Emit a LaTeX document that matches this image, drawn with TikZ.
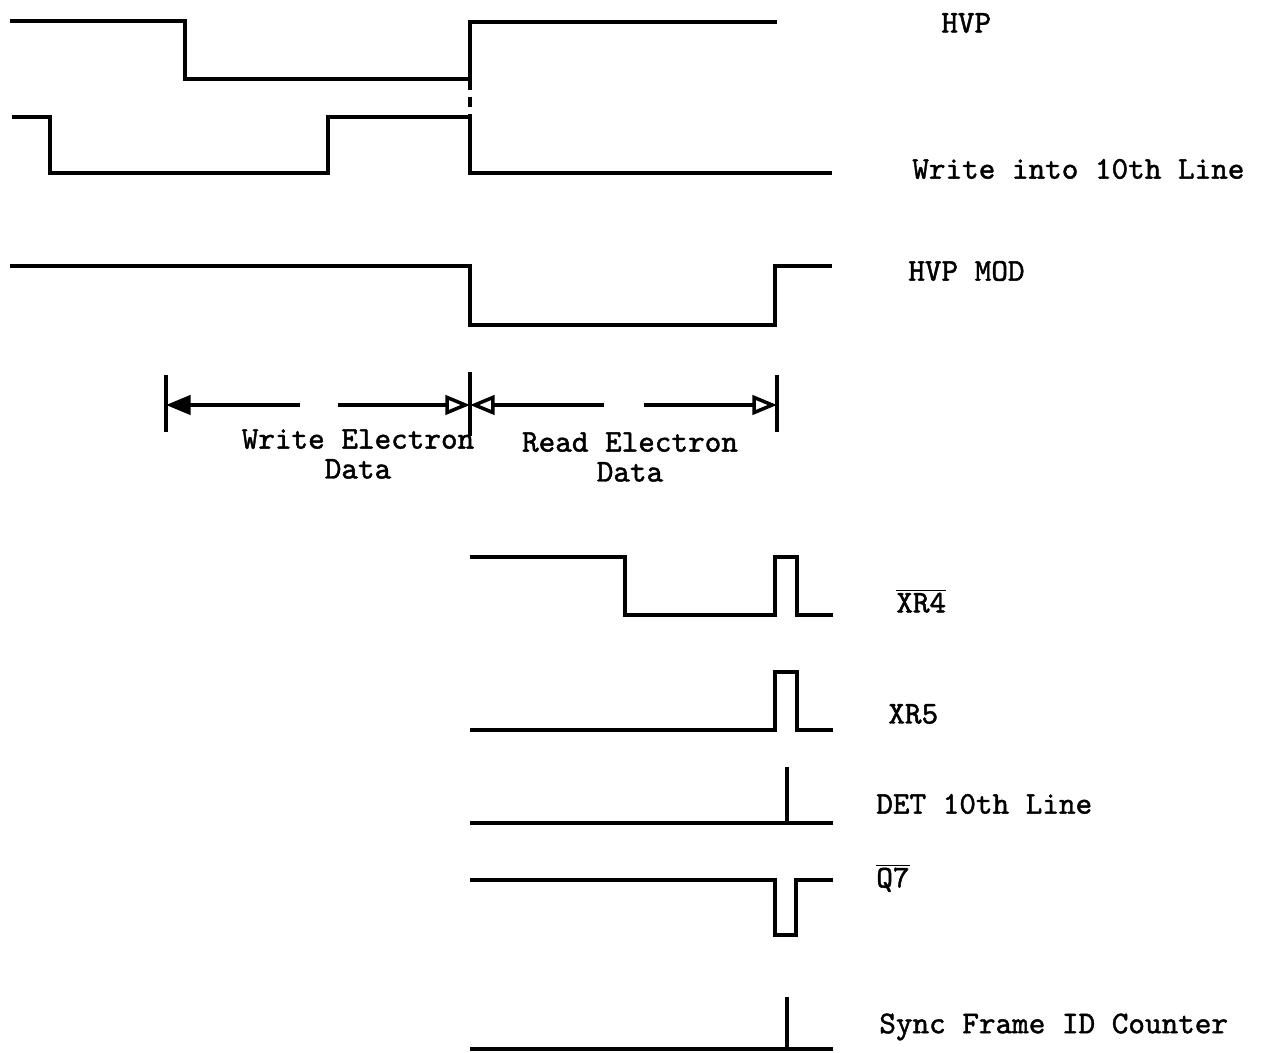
\documentclass[tikz,border=0pt]{standalone}
\usepackage{fontspec}
\usepackage{tikz}
\usetikzlibrary{arrows.meta}
\newfontfamily\typer[Extension=.otf, FakeBold=1.4]{lmmono10-regular}
\newcommand{\ovl}[1]{$\overline{\hbox{#1}}$}

\begin{document}
\begin{tikzpicture}[
          x=0.02cm, y=-0.02cm,
          sig/.style={line width=2.2pt, line join=miter},
          lbl/.style={font=\typer\fontsize{18}{18}\selectfont, anchor=west, inner sep=0pt},
          dimlbl/.style={font=\typer\fontsize{18}{17}\selectfont, align=center, inner sep=0pt},
          tick/.style={line width=2pt},
          dimline/.style={line width=2pt},
          tipfull/.style={-{Triangle[length=14pt, width=11pt]}},
          tipopen/.style={-{Triangle[open, length=14pt, width=11pt]}}
      ]
        \useasboundingbox (0,0) rectangle (1269,1053);
        \draw[sig] (10,21) -- (185,21) -- (185,79) -- (470,79) -- (470,22) -- (777,22);
        \draw[sig] (12,117) -- (50,117) -- (50,173) -- (328,173) -- (328,117) -- (470,117) -- (470,173) -- (832,173);
        \draw[sig, dash pattern=on 6pt off 4pt] (470,79) -- (470,117);
        \draw[sig] (10,266) -- (470,266) -- (470,325) -- (775,325) -- (775,266) -- (832,266);
        \node[lbl] (hvp) at (941,23) {HVP};
        \node[lbl] (wline) at (912,169) {Write into 10th Line};
        \node[lbl] (hvpmod) at (908,271) {HVP MOD};
        \coordinate (wstart) at (166,405);
        \coordinate (wend) at (470,405);
        \coordinate (rend) at (777,405);
        \draw[tick] (166,375) -- (166,432);
        \draw[tick] (470,372) -- (470,436);
        \draw[tick] (777,375) -- (777,432);
        \draw[dimline, tipfull] (300,405) -- (wstart);
        \draw[dimline, tipopen] (338,405) -- (wend);
        \draw[dimline, tipopen] (604,405) -- (wend);
        \draw[dimline, tipopen] (644,405) -- (rend);
        \node[dimlbl] (wdata) at (358,454) {Write Electron\\Data};
        \node[dimlbl] (rdata) at (630,457) {Read Electron\\Data};
        \draw[sig] (470,557) -- (625,557) -- (625,615) -- (775,615) -- (775,557) -- (797,557) -- (797,615) -- (833,615);
        \draw[sig] (470,730) -- (775,730) -- (775,672) -- (797,672) -- (797,730) -- (833,730);
        \draw[sig] (470,823) -- (833,823);
        \draw[sig] (787,767) -- (787,823);
        \draw[sig] (470,880) -- (775,880) -- (775,935) -- (796,935) -- (796,880) -- (833,880);
        \draw[sig] (470,1049) -- (833,1049);
        \draw[sig] (787,997) -- (787,1049);
        \node[lbl] (xrfour) at (896,601) {\ovl{XR4}};
        \node[lbl] (xrfive) at (888,714) {XR5};
        \node[lbl] (det) at (876,804) {DET 10th Line};
        \node[lbl] (qseven) at (876,878) {\ovl{Q7}};
        \node[lbl] (sync) at (879,1027) {Sync Frame ID Counter};
      \end{tikzpicture}
\end{document}
